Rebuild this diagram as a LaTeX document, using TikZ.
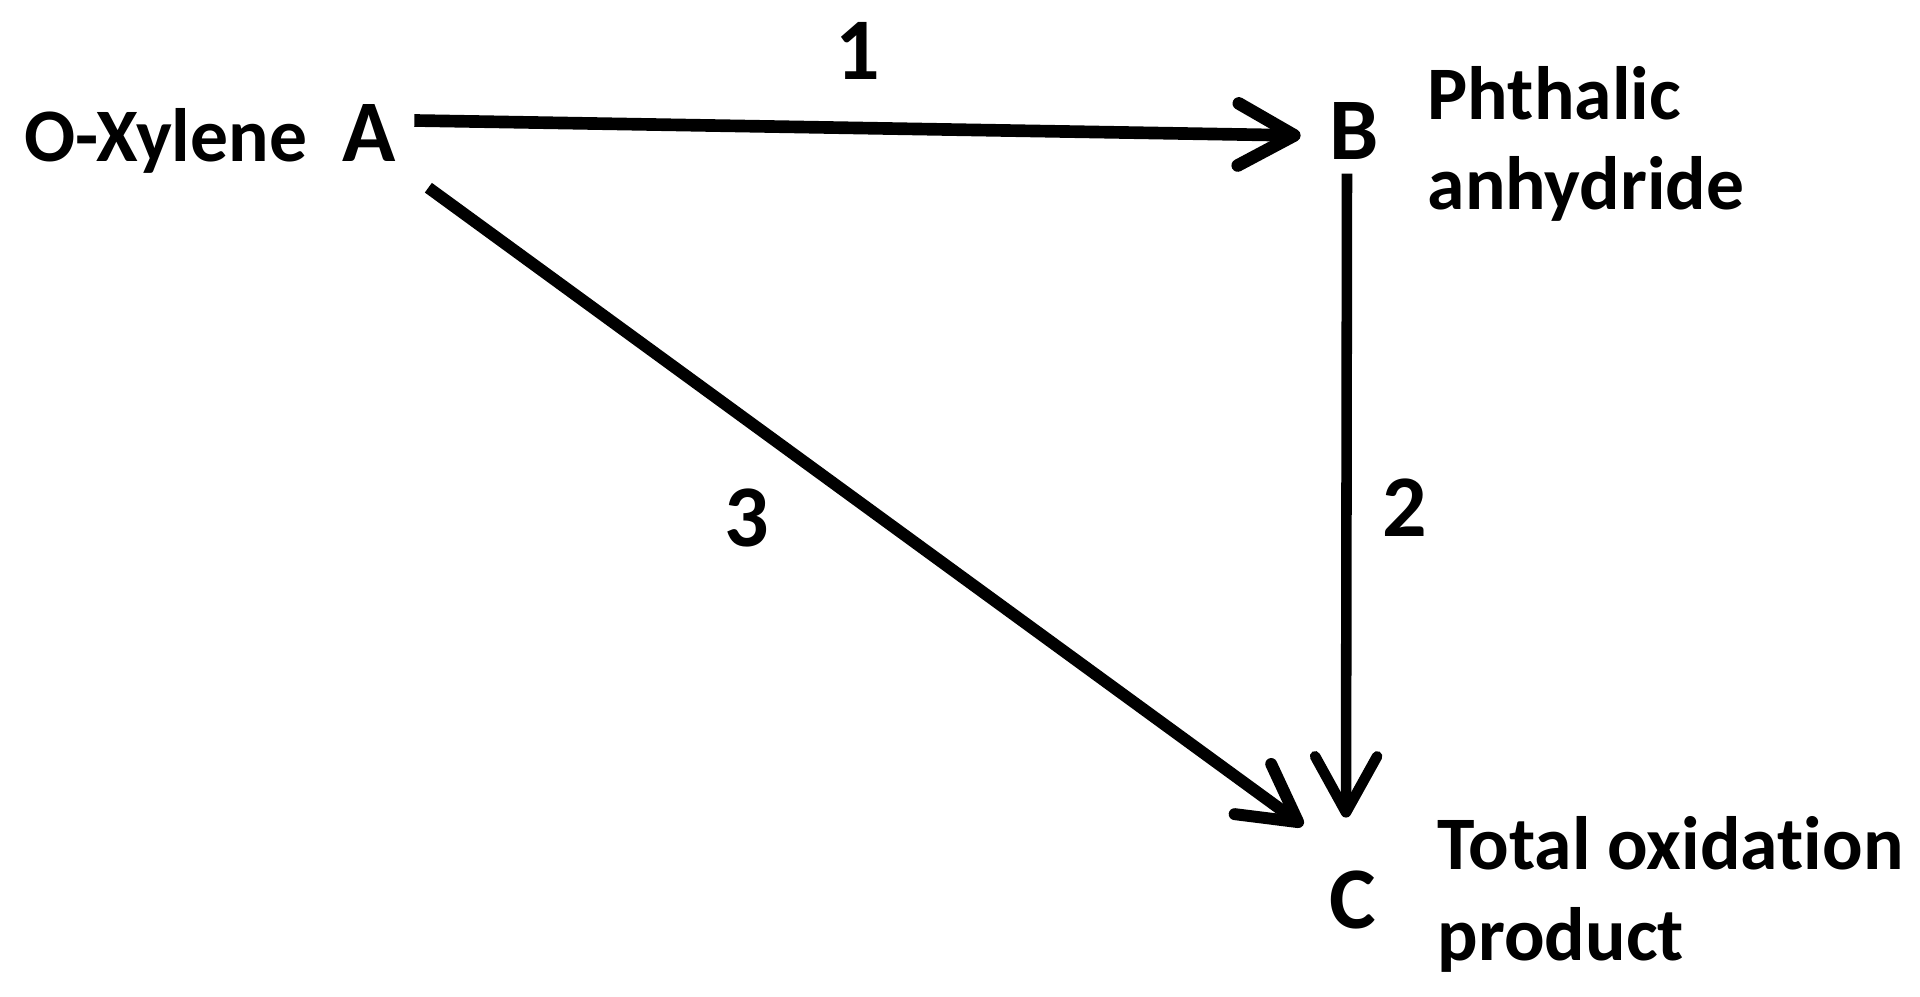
\documentclass[tikz,border=0pt]{standalone}
\usepackage{fontspec}
\setmainfont{Carlito}[Ligatures=NoCommon]
\usetikzlibrary{arrows.meta, positioning}
\tikzset{
    species/.style={font=\fontsize{25}{30}\selectfont\bfseries, inner sep=0pt, anchor=base},
    compound/.style={font=\fontsize{21.5}{25.6}\selectfont\bfseries, inner sep=0pt, anchor=base west, align=left},
    pathnum/.style={font=\fontsize{25}{30}\selectfont\bfseries, inner sep=0pt, anchor=base},
    arr/.style={line width=3.4pt, -{Straight Barb[length=5.6mm, width=6.2mm, round]}}
}

\begin{document}
\begin{tikzpicture}[x=0.01cm, y=-0.01cm]
    \useasboundingbox (0,0) rectangle (1920,997);

    % Species
    \node[species] (A) at (369,162) {A};
    \node[species] (B) at (1354,160) {B};
    \node[species] (C) at (1353,928) {C};

    % Names (base = last line)
    \node[compound] (Aname) at (24,162) {O-Xylene};
    \node[compound] (Bname) at (1427,210) {Phthalic\\anhydride};
    \node[compound] (Cname) at (1437,960) {Total oxidation\\product};

    % Reaction paths
    \draw[arr, line width=3.6pt] ([shift={(0.18cm,0.13cm)}]A.east) -- ([shift={(-0.28cm,-0.04cm)}]B.west);
    \draw[arr, line width=3pt] ([shift={(-0.07cm,-0.13cm)}]B.south) -- ([shift={(-0.07cm,0.52cm)}]C.north);
    \draw[arr] ([shift={(0.32cm,-0.25cm)}]A.south east) -- ([shift={(-0.26cm,0.44cm)}]C.north west);

    % Path numbers
    \node[pathnum] (n1) at (858,80) {1};
    \node[pathnum] (n2) at (1405,537) {2};
    \node[pathnum] (n3) at (747,547) {3};
\end{tikzpicture}
\end{document}
